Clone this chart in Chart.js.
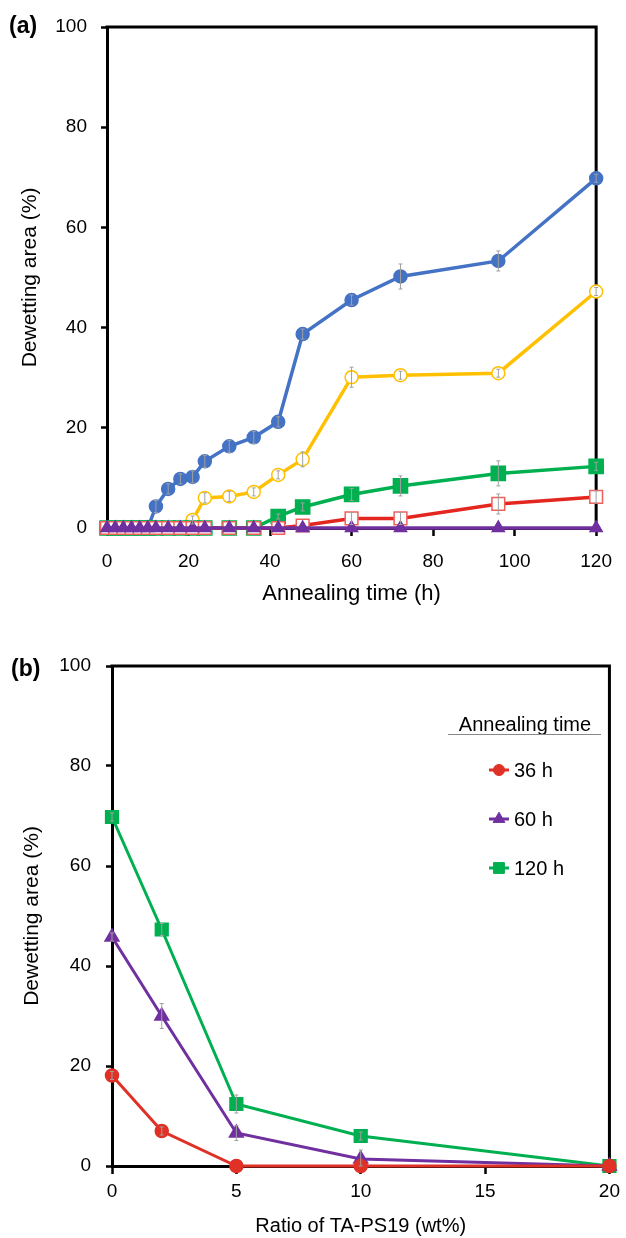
<!DOCTYPE html>
<html>
<head>
<meta charset="utf-8">
<script src="https://cdn.jsdelivr.net/npm/chart.js@4.4.0/dist/chart.umd.min.js"></script>
<style>
  body { margin: 0; background: #fff; width: 626px; height: 1238px; position: relative; overflow: hidden;
         font-family: "Liberation Sans", Arial, Helvetica, sans-serif; }
  canvas { position: absolute; left: 0; }
  #chartA { top: 0; }
  #chartB { top: 620px; }
  .panel { position: absolute; font-weight: bold; font-size: 23px; line-height: 26px; color: #000; }
</style>
</head>
<body>
<canvas id="chartA" width="626" height="620"></canvas>
<canvas id="chartB" width="626" height="618"></canvas>
<div class="panel" style="left:9px; top:12px">(a)</div>
<div class="panel" style="left:11px; top:655px">(b)</div>
<script>
// panel (a): dewetting area vs annealing time, one series per TA-PS19 ratio
const hours = [0, 2, 4, 6, 8, 10, 12, 15, 18, 21, 24, 30, 36, 42, 48, 60, 72, 96, 120];
const ratio0 = [0, 0, 0, 0, 0, 0, 4.3, 7.8, 9.8, 10.2, 13.3, 16.3, 18.1, 21.2, 38.7, 45.5, 50.2, 53.3, 69.8];
const ratio2 = [0, 0, 0, 0, 0, 0, 0, 0, 0, 1.6, 6.0, 6.3, 7.2, 10.6, 13.7, 30.1, 30.5, 30.9, 47.2];
const ratio5 = [0, 0, 0, 0, 0, 0, 0, 0, 0, 0, 0, 0, 0, 2.3, 4.2, 6.7, 8.4, 10.9, 12.3];
const ratio10 = [0, 0, 0, 0, 0, 0, 0, 0, 0, 0, 0, 0, 0, 0, 0.5, 1.9, 1.9, 4.8, 6.2];
const ratio20 = [0, 0, 0, 0, 0, 0, 0, 0, 0, 0, 0, 0, 0, 0, 0, 0, 0, 0, 0];
const err0 = [0, 0, 0, 0, 0, 0, 1.2, 1, 1, 1.2, 1.2, 1.2, 1.2, 1, 1, 1, 2.5, 2, 0.8];
const err2 = [0, 0, 0, 0, 0, 0, 0, 0, 0, 0.8, 1, 1, 0.8, 0.8, 1.5, 2, 0.8, 0.8, 0.8];
const err5 = [0, 0, 0, 0, 0, 0, 0, 0, 0, 0, 0, 0, 0, 0.5, 0.8, 1.2, 2, 2.5, 0.8];
const err10 = [0, 0, 0, 0, 0, 0, 0, 0, 0, 0, 0, 0, 0, 0, 0, 1.2, 1.2, 2, 1.2];
const xTicksA = [0, 20, 40, 60, 80, 100, 120];

// panel (b): dewetting area vs ratio, one series per annealing time
const ratios = [0, 2, 5, 10, 20];
const h36 = [18.1, 7.0, 0, 0, 0];
const h60 = [45.8, 30.0, 6.6, 1.4, 0];
const h120 = [69.8, 47.3, 12.4, 6.0, 0];
const errH36 = [0.8, 0.8, 0, 0, 0];
const errH60 = [0.8, 2.5, 1.5, 1.8, 0];
const errH120 = [0.8, 1.2, 1.8, 0.8, 0];
const xTicksB = [0, 5, 10, 15, 20];

const yTicks = [0, 20, 40, 60, 80, 100];

const FONT = '"Liberation Sans", Arial, Helvetica, sans-serif';

const pts = (xs, ys) => xs.map((x, i) => ({ x, y: ys[i] }));

const errorBars = {
    id: 'errorBars',
    afterDatasetsDraw(chart) {
        const { ctx, scales: { x, y } } = chart;
        ctx.save();
        ctx.strokeStyle = '#a0a0a0';
        ctx.lineWidth = 1;
        chart.data.datasets.forEach(ds => {
            if (!ds.errors) return;
            ds.data.forEach((p, i) => {
                const e = ds.errors[i];
                if (!e) return;
                const px = x.getPixelForValue(p.x);
                const top = y.getPixelForValue(p.y + e);
                const bot = y.getPixelForValue(Math.max(p.y - e, 0));
                ctx.beginPath();
                ctx.moveTo(px, top); ctx.lineTo(px, bot);
                ctx.moveTo(px - 2, top); ctx.lineTo(px + 2, top);
                ctx.moveTo(px - 2, bot); ctx.lineTo(px + 2, bot);
                ctx.stroke();
            });
        });
        ctx.restore();
    },
};

// top and right edges of the box
const frame = {
    id: 'frame',
    beforeDatasetsDraw(chart) {
        const { ctx, chartArea: a } = chart;
        ctx.save();
        ctx.strokeStyle = '#000';
        ctx.lineWidth = 3;
        ctx.beginPath();
        ctx.moveTo(a.left - 1.5, a.top);
        ctx.lineTo(a.right, a.top);
        ctx.lineTo(a.right, a.bottom + 1.5);
        ctx.stroke();
        ctx.restore();
    },
};

// legend for panel (b), drawn inside the plot
const insideLegend = {
    id: 'insideLegend',
    afterDatasetsDraw(chart) {
        const { ctx } = chart;
        ctx.save();
        ctx.fillStyle = '#000';
        ctx.font = '20px ' + FONT;
        ctx.textBaseline = 'middle';
        ctx.textAlign = 'center';
        ctx.fillText('Annealing time', 525, 105);
        ctx.strokeStyle = '#888';
        ctx.lineWidth = 1;
        ctx.beginPath();
        ctx.moveTo(448, 114.5);
        ctx.lineTo(601, 114.5);
        ctx.stroke();
        ctx.textAlign = 'left';
        chart.data.datasets.forEach((ds, i) => {
            const cy = 150 + i * 49;
            ctx.strokeStyle = ds.borderColor;
            ctx.fillStyle = ds.pointBackgroundColor;
            ctx.lineWidth = 3;
            ctx.beginPath();
            ctx.moveTo(489, cy);
            ctx.lineTo(509, cy);
            ctx.stroke();
            ctx.lineWidth = 1;
            Chart.helpers.drawPoint(ctx, {
                pointStyle: ds.pointStyle,
                radius: ds.pointRadius * 0.85,
                rotation: 0,
                borderWidth: 1,
            }, 499, cy);
            ctx.fillStyle = '#000';
            ctx.fillText(ds.label, 514, cy + 1);
        });
        ctx.restore();
    },
};

function axisX(min, max, ticks, title, opts) {
    return {
        type: 'linear',
        min, max,
        afterBuildTicks: s => { s.ticks = ticks.map(v => ({ value: v })); },
        afterFit: s => { s.height = opts.height; },
        grid: { display: true, drawOnChartArea: false, drawTicks: true, tickLength: 8, tickColor: '#000', tickWidth: 2.5 },
        border: { display: true, color: '#000', width: 3 },
        ticks: { color: '#000', font: { family: FONT, size: 19 }, padding: opts.tickPad, maxRotation: 0, autoSkip: false },
        title: { display: true, text: title, color: '#000', font: { family: FONT, size: opts.titleSize }, padding: { top: 0, bottom: opts.titlePad } },
    };
}

function axisY(width, tickPad, titlePad) {
    return {
        min: 0, max: 100,
        afterBuildTicks: s => { s.ticks = yTicks.map(v => ({ value: v })); },
        afterFit: s => { s.width = width; },
        grid: { display: true, drawOnChartArea: false, drawTicks: true, tickLength: 6, tickColor: '#000', tickWidth: 2.5 },
        border: { display: true, color: '#000', width: 3 },
        ticks: { color: '#000', font: { family: FONT, size: 19 }, padding: tickPad },
        title: { display: true, text: 'Dewetting area (%)', color: '#000', font: { family: FONT, size: 21 }, padding: { top: titlePad, bottom: 0 } },
    };
}

const lineBase = { showLine: true, tension: 0, clip: false, pointBorderWidth: 1.5 };

new Chart(document.getElementById('chartA'), {
    type: 'scatter',
    data: {
        datasets: [
            { ...lineBase, label: '0 wt%', data: pts(hours, ratio0), errors: err0, order: 5,
              borderColor: '#4472C4', borderWidth: 3.5, pointStyle: 'circle', pointRadius: 6.5,
              pointBackgroundColor: '#4472C4', pointBorderColor: '#4472C4' },
            { ...lineBase, label: '2 wt%', data: pts(hours, ratio2), errors: err2, order: 4,
              borderColor: '#FFC000', borderWidth: 3.5, pointStyle: 'circle', pointRadius: 6.5,
              pointBackgroundColor: '#fff', pointBorderColor: '#FFC000' },
            { ...lineBase, label: '5 wt%', data: pts(hours, ratio5), errors: err5, order: 3,
              borderColor: '#00B050', borderWidth: 3.5, pointStyle: 'rect', pointRadius: 10,
              pointBackgroundColor: '#00B050', pointBorderColor: '#00B050' },
            { ...lineBase, label: '10 wt%', data: pts(hours, ratio10), errors: err10, order: 2,
              borderColor: '#E3261F', borderWidth: 3.5, pointStyle: 'rect', pointRadius: 9,
              pointBackgroundColor: '#fff', pointBorderColor: '#F0605A' },
            { ...lineBase, label: '20 wt%', data: pts(hours, ratio20), order: 1,
              borderColor: '#7030A0', borderWidth: 3.5, pointStyle: 'triangle', pointRadius: 7,
              pointBackgroundColor: '#7030A0', pointBorderColor: '#7030A0' },
        ],
    },
    options: {
        responsive: false,
        animation: false,
        devicePixelRatio: 1,
        layout: { padding: { top: 27, right: 19, left: 0, bottom: 0 } },
        plugins: { legend: { display: false }, tooltip: { enabled: false } },
        scales: {
            x: axisX(0, 120, xTicksA, 'Annealing time (h)', { height: 92, tickPad: 14, titleSize: 22, titlePad: 13 }),
            y: axisY(107, 14, 18),
        },
    },
    plugins: [frame, errorBars],
});

new Chart(document.getElementById('chartB'), {
    type: 'scatter',
    data: {
        datasets: [
            { ...lineBase, label: '36 h', data: pts(ratios, h36), errors: errH36,
              borderColor: '#E03127', borderWidth: 3, pointStyle: 'circle', pointRadius: 6.5,
              pointBackgroundColor: '#E03127', pointBorderColor: '#E03127' },
            { ...lineBase, label: '60 h', data: pts(ratios, h60), errors: errH60,
              borderColor: '#7030A0', borderWidth: 3, pointStyle: 'triangle', pointRadius: 8,
              pointBackgroundColor: '#7030A0', pointBorderColor: '#7030A0' },
            { ...lineBase, label: '120 h', data: pts(ratios, h120), errors: errH120,
              borderColor: '#00B050', borderWidth: 3, pointStyle: 'rect', pointRadius: 9,
              pointBackgroundColor: '#00B050', pointBorderColor: '#00B050' },
        ],
    },
    options: {
        responsive: false,
        animation: false,
        devicePixelRatio: 1,
        layout: { padding: { top: 46, right: 14, left: 0, bottom: 0 } },
        plugins: { legend: { display: false }, tooltip: { enabled: false } },
        scales: {
            x: axisX(0, 20, xTicksB, 'Ratio of TA-PS19 (wt%)', { height: 72, tickPad: 6, titleSize: 20, titlePad: 0 }),
            y: axisY(112, 15, 20),
        },
    },
    plugins: [frame, errorBars, insideLegend],
});
</script>
</body>
</html>
